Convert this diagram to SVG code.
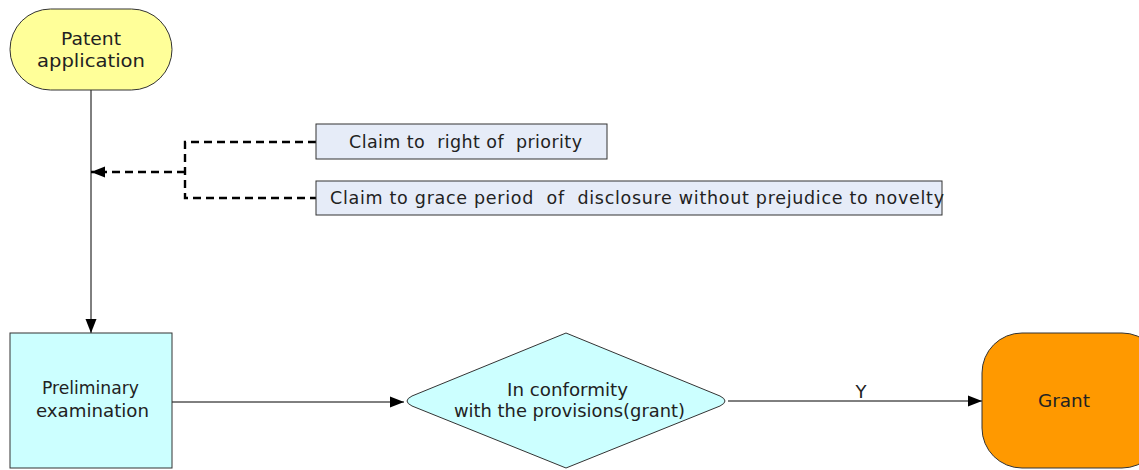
<svg xmlns="http://www.w3.org/2000/svg" width="1139" height="470" viewBox="0 0 1139 470">
<style>
text{font-family:"DejaVu Sans","Liberation Sans",sans-serif;font-size:17.5px;fill:#222;text-anchor:middle}
.node{stroke:#333;stroke-width:1}
.conn{fill:none;stroke:#000;stroke-width:1}
.dash{fill:none;stroke:#000;stroke-width:2.4;stroke-dasharray:8,5}
</style>
<defs>
<marker id="arr" markerWidth="14" markerHeight="12" refX="14" refY="6" orient="auto" markerUnits="userSpaceOnUse">
<path d="M0,0.5 L14,6 L0,11.5 Z" fill="#000"/>
</marker>
</defs>
<g id="connectors">
<path class="conn" d="M91,90 V333" marker-end="url(#arr)"/>
<path class="conn" d="M172,402 H404" marker-end="url(#arr)"/>
<path class="conn" d="M728,401 H982" marker-end="url(#arr)"/>
<text x="861" y="398" textLength="11" lengthAdjust="spacingAndGlyphs">Y</text>
<path class="dash" d="M316,142 H185 V198 H316"/>
<path class="dash" d="M185,172 H91" marker-end="url(#arr)"/>
</g>
<g id="patent-application">
<rect class="node" x="10" y="9" width="162" height="81" rx="40.5" fill="#FFFF99"/>
<text x="91" y="45" textLength="60" lengthAdjust="spacingAndGlyphs">Patent</text>
<text x="91" y="67" textLength="108" lengthAdjust="spacingAndGlyphs">application</text>
</g>
<g id="claim-priority">
<rect class="node" x="316" y="124" width="291" height="35" fill="#E6ECF8"/>
<text x="465.5" y="148" textLength="233" lengthAdjust="spacing" xml:space="preserve">Claim to  right of  priority</text>
</g>
<g id="claim-grace">
<rect class="node" x="316" y="181" width="626" height="34" fill="#E6ECF8"/>
<text x="637" y="204" textLength="614" lengthAdjust="spacing" xml:space="preserve">Claim to grace period  of  disclosure without prejudice to novelty</text>
</g>
<g id="preliminary-examination">
<rect class="node" x="10" y="333" width="162" height="135" fill="#CCFFFF"/>
<text x="90.5" y="394" textLength="97" lengthAdjust="spacingAndGlyphs">Preliminary</text>
<text x="92.5" y="417" textLength="113" lengthAdjust="spacingAndGlyphs">examination</text>
</g>
<g id="conformity">
<path class="node" fill="#CCFFFF" d="M566,333 L720,396 Q730,401 720,406 L566,468 L412,406 Q402,401 412,396 Z"/>
<text x="567.5" y="396" textLength="121" lengthAdjust="spacingAndGlyphs">In conformity</text>
<text x="569.5" y="417" textLength="231" lengthAdjust="spacingAndGlyphs">with the provisions(grant)</text>
</g>
<g id="grant">
<rect class="node" x="982" y="333" width="180" height="135" rx="40" fill="#FF9900"/>
<text x="1064" y="407" textLength="52" lengthAdjust="spacingAndGlyphs">Grant</text>
</g>
</svg>
